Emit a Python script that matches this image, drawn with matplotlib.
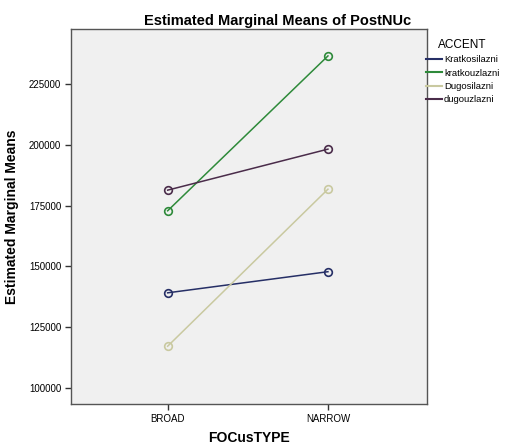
import matplotlib
matplotlib.use("Agg")
import matplotlib.pyplot as plt
from matplotlib.lines import Line2D

# data
focus = ['BROAD', 'NARROW']
accents = ['Kratkosilazni', 'kratkouzlazni', 'Dugosilazni', 'dugouzlazni']
kratkosilazni = [139100, 147800]
kratkouzlazni = [172900, 236700]
dugosilazni = [117100, 181800]
dugouzlazni = [181400, 198300]
yticks = [100000, 125000, 150000, 175000, 200000, 225000]

colors = ['#262f66', '#2e8a3a', '#c9c9a0', '#4a2c4a']
series = [kratkosilazni, kratkouzlazni, dugosilazni, dugouzlazni]

plt.rcParams['font.family'] = ['Liberation Sans', 'DejaVu Sans']

fig = plt.figure(figsize=(5.06, 4.46), dpi=100)
ax = fig.add_axes([0.1403, 0.0942, 0.7036, 0.8408])
ax.set_facecolor('#f0f0f0')

x = list(range(len(focus)))
for vals, c in zip(series, colors):
    ax.plot(x, vals, color=c, lw=1.1, marker='o', ms=5.5,
            mfc='none', mec=c, mew=1.2)

ax.set_xlim(-0.603, 1.618)
ax.set_ylim(93300, 247800)
ax.set_xticks(x)
ax.set_xticklabels(focus, fontsize=7)
ax.set_yticks(yticks)
ax.set_yticklabels([str(v) for v in yticks], fontsize=7)
ax.tick_params(length=4, width=1, color='#333333', pad=3)
for s in ax.spines.values():
    s.set_color('#555555')
    s.set_linewidth(1)

ax.set_xlabel('FOCusTYPE', fontsize=10, fontweight='bold', labelpad=5)
ax.set_ylabel('Estimated Marginal Means', fontsize=10, fontweight='bold', labelpad=7)
ax.set_title('Estimated Marginal Means of PostNUc', fontsize=10.5,
             fontweight='bold', pad=3, x=0.58)

handles = [Line2D([0], [0], color=c, lw=1.5) for c in colors]
leg = fig.legend(handles, accents, title='ACCENT', loc='upper left',
                 bbox_to_anchor=(0.842, 0.912), frameon=False, fontsize=6.8,
                 title_fontsize=8.5, handlelength=1.7, handletextpad=0.2,
                 labelspacing=0.45, borderaxespad=0, borderpad=0)
leg._legend_box.align = 'center'

fig.savefig('out.png', dpi=100)
